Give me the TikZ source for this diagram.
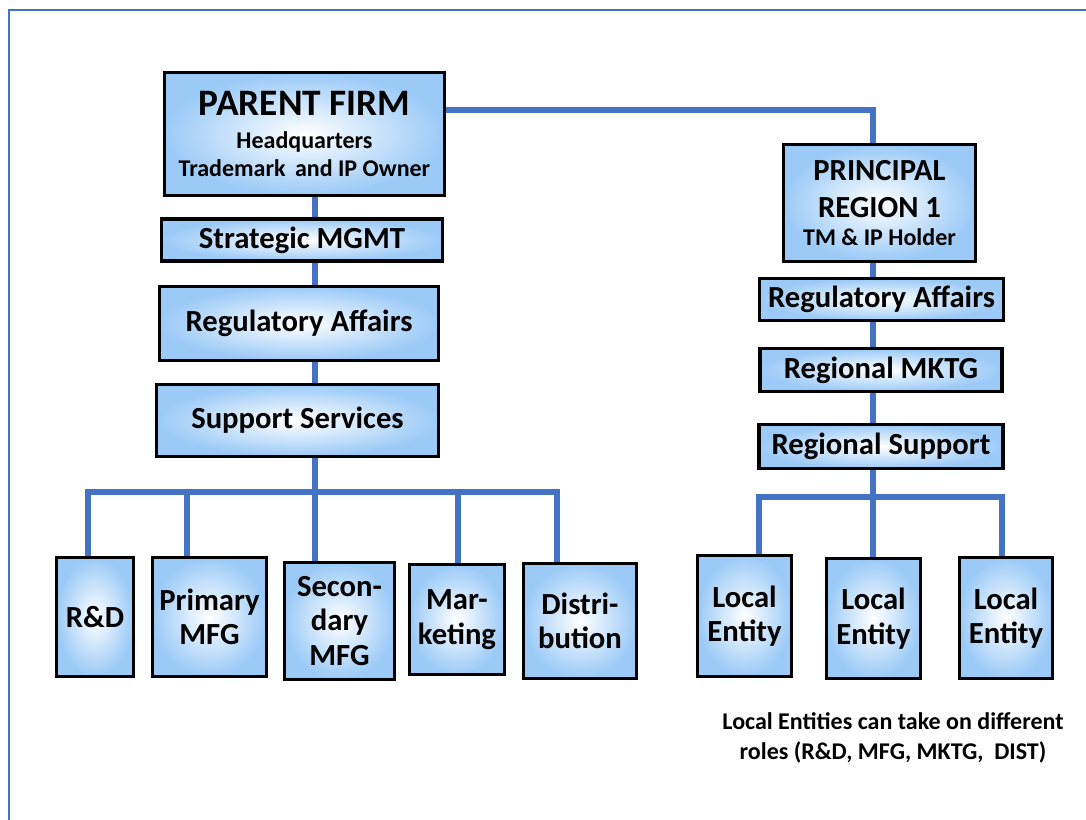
\documentclass[tikz,border=0pt]{standalone}
\usepackage{fontspec}
\setmainfont{Carlito}
\definecolor{linkblue}{RGB}{68, 114, 196}
\definecolor{boxblue}{RGB}{155, 202, 247}
\usetikzlibrary{positioning,backgrounds}

\begin{document}
\begin{tikzpicture}[x=0.75pt, y=-0.75pt,
    unit/.style={draw=black, line width=2.4pt, shading=radial, inner color=white, outer color=boxblue,
      align=center, inner sep=0pt, font=\bfseries\fontsize{23}{26}\selectfont},
    link/.style={draw=linkblue, line width=4.9pt},
    frame/.style={draw=linkblue, line width=1.5pt}]
        \useasboundingbox (0, 0) rectangle (1086, 820);
        \draw[frame] (8.5, 820) -- (8.5, 10) -- (1086, 10);

        % Parent firm column
        \node[unit, minimum width=210pt, minimum height=92pt] (Parent) at (304.5, 134)
          {\fontsize{28}{26}\selectfont PARENT FIRM\\[-1pt]\fontsize{18}{26}\selectfont Headquarters\\[-5pt]\fontsize{18}{26}\selectfont Trademark\hspace{3pt} and IP Owner};
        \node[unit, minimum width=211pt, minimum height=31.5pt] (Strategic) at (302, 240) {Strategic MGMT};
        \node[unit, minimum width=209pt, minimum height=55.5pt] (RegAffL) at (299, 323.5) {Regulatory Affairs};
        \node[unit, minimum width=211.5pt, minimum height=54pt] (Support) at (297.5, 420.5) {Support Services};

        % Functions
        \node[unit, minimum width=58pt, minimum height=89pt] (RnD) at (95, 617) {R\&D};
        \node[unit, minimum width=85.5pt, minimum height=89pt] (Primary) at (209.5, 617) {Primary\\MFG};
        \node[unit, minimum width=82.5pt, minimum height=88pt] (Secondary) at (339.5, 621) {Secon-\\dary\\MFG};
        \node[unit, minimum width=71pt, minimum height=82.5pt] (Marketing) at (457, 619.5) {Mar-\\keting};
        \node[unit, minimum width=85pt, minimum height=86pt] (Distrib) at (580, 621) {Distri-\\bution};

        % Principal column
        \node[unit, minimum width=144pt, minimum height=88pt] (Principal) at (879.5, 203)
          {PRINCIPAL\\[2pt]REGION 1\\[-5pt]\fontsize{18}{26}\selectfont TM \& IP Holder};
        \node[unit, minimum width=183pt, minimum height=31.5pt] (RegAffR) at (881.5, 299.5) {Regulatory Affairs};
        \node[unit, minimum width=181.5pt, minimum height=32pt] (RegMktg) at (881, 370) {Regional MKTG};
        \node[unit, minimum width=183pt, minimum height=33pt] (RegSupport) at (881, 446.5) {Regional Support};

        % Local entities
        \node[unit, minimum width=70.5pt, minimum height=91pt] (Local1) at (744.5, 616) {Local\\Entity};
        \node[unit, minimum width=70.5pt, minimum height=90pt] (Local2) at (873.5, 618.5) {Local\\Entity};
        \node[unit, minimum width=70pt, minimum height=91pt] (Local3) at (1006, 618) {Local\\Entity};

        \node[align=center, font=\bfseries\fontsize{18}{22.5}\selectfont] (Note) at (893, 738)
          {Local Entities can take on different\\roles (R\&D, MFG, MKTG,~ DIST)};

        % Bus points
        \foreach \x [count=\i] in {88, 187, 315, 458, 557}
          \coordinate (LDrop\i) at (\x, 492);
        \foreach \x [count=\i] in {759, 873, 1002}
          \coordinate (RDrop\i) at (\x, 497);

        % Connectors
        \begin{scope}[on background layer]
          \draw[link] ([yshift=18pt]Parent.east) -| (RDrop2 |- Principal.north);
          \draw[link] (Parent.south -| LDrop3) -- (LDrop3);
          \draw[link] (LDrop1 |- RnD.north) -- (LDrop1) -- (LDrop5) -- (LDrop5 |- Distrib.north);
          \foreach \n [count=\i from 2] in {Primary, Secondary, Marketing}
            \draw[link] (LDrop\i) -- (LDrop\i |- \n.north);
          \draw[link] (Principal.south -| RDrop2) -- (RDrop2 |- Local2.north);
          \draw[link] (RDrop1 |- Local1.north) -- (RDrop1) -- (RDrop3) -- (RDrop3 |- Local3.north);
        \end{scope}
      \end{tikzpicture}
\end{document}
